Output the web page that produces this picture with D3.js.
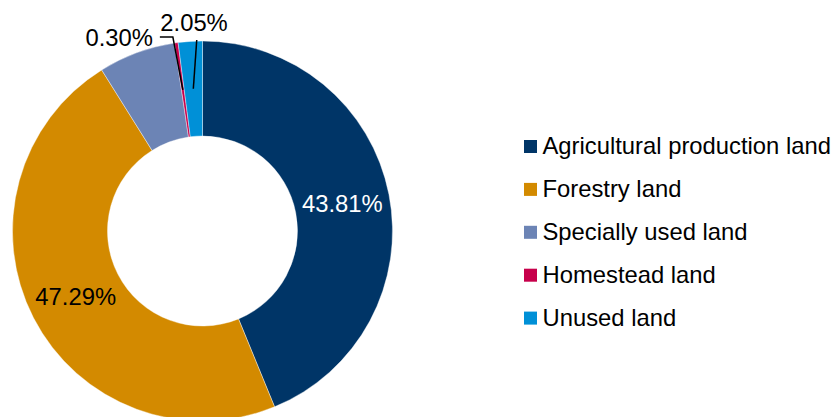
<!DOCTYPE html>
<html>
<head>
<meta charset="utf-8">
<script src="https://cdn.jsdelivr.net/npm/d3@7"></script>
<style>
html,body{margin:0;padding:0;background:#fff;}
svg{display:block;font-family:"Liberation Sans",Arial,sans-serif;}
</style>
</head>
<body>
<svg id="chart" width="835" height="417"></svg>
<script>
const categories = ["Agricultural production land","Forestry land","Specially used land","Homestead land","Unused land"];
const values = [43.81, 47.29, 6.55, 0.30, 2.05];
const labels = ["43.81%","47.29%","","0.30%","2.05%"];
const colors = ["#003567","#D38A00","#6C84B5","#C7004B","#0090D7"];

const svg = d3.select("#chart");
const cx = 202.5, cy = 231, R = 190, r = 95;
const data = categories.map((c,i)=>({name:c, value:values[i], label:labels[i], color:colors[i]}));

const pie = d3.pie().value(d=>d.value).sort(null);
const arcs = pie(data);
const arc = d3.arc().innerRadius(r).outerRadius(R);
const mid = d3.arc().innerRadius(142.5).outerRadius(142.5);

const g = svg.append("g").attr("transform",`translate(${cx},${cy})`);
g.selectAll("path").data(arcs).join("path")
  .attr("d",arc).attr("fill",d=>d.data.color)
  .attr("stroke","#fff").attr("stroke-width",0.4);

// inside labels
[0,1].forEach(i=>{
  const [x,y] = mid.centroid(arcs[i]);
  g.append("text").attr("x",x).attr("y",y).attr("dy","0.36em")
    .attr("text-anchor","middle").attr("font-size",23.8)
    .attr("fill", i===0 ? "#fff" : "#000").text(labels[i]);
});

// homestead label with leader
{
  const [x,y] = mid.centroid(arcs[3]);
  const ey = -cy + 37;
  g.append("polyline").attr("points",`${x},${y} ${x-10},${ey} ${x-23},${ey}`)
    .attr("fill","none").attr("stroke","#000").attr("stroke-width",1.5);
  g.append("text").attr("x",x-30).attr("y",-cy+46).attr("text-anchor","end")
    .attr("font-size",23.8).attr("fill","#000").text(labels[3]);
}
// unused label with leader
{
  const [x,y] = mid.centroid(arcs[4]);
  g.append("line").attr("x1",x).attr("y1",y).attr("x2",x+3.4).attr("y2",-cy+40)
    .attr("stroke","#000").attr("stroke-width",1.5);
  g.append("text").attr("x",x+0.7).attr("y",-cy+31).attr("text-anchor","middle")
    .attr("font-size",23.8).attr("fill","#000").text(labels[4]);
}

// legend
const leg = svg.append("g").attr("transform","translate(524,140)");
const items = leg.selectAll("g").data(data).join("g")
  .attr("transform",(d,i)=>`translate(0,${i*42.9})`);
items.append("rect").attr("width",13).attr("height",13).attr("fill",d=>d.color);
items.append("text").attr("x",18.5).attr("y",14).attr("font-size",23.8)
  .attr("fill","#000").text(d=>d.name);
</script>
</body>
</html>
